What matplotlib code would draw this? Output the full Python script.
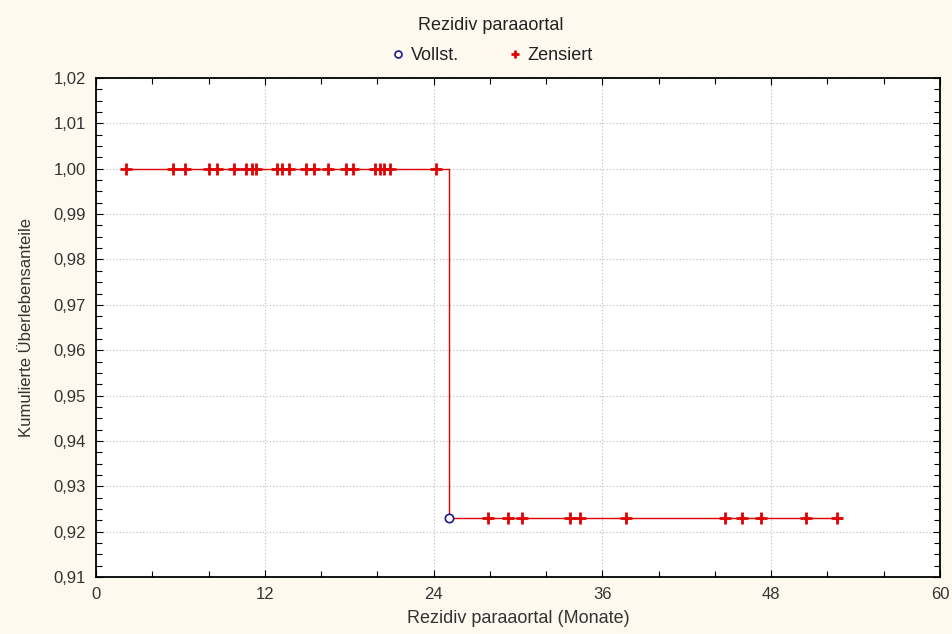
import numpy as np
import matplotlib
matplotlib.use("Agg")
import matplotlib.pyplot as plt
from matplotlib.ticker import MultipleLocator, FuncFormatter
from matplotlib.lines import Line2D

plt.rcParams['font.family'] = ['Liberation Sans', 'DejaVu Sans']

# censored observations (months) at each survival level
cens_top = [2.1, 5.5, 6.3, 8.0, 8.6, 9.8, 10.7, 11.1, 11.4, 12.9, 13.2, 13.7, 14.9,
            15.5, 16.5, 17.8, 18.3, 19.8, 20.2, 20.5, 20.9, 24.2]
cens_bottom = [27.9, 29.3, 30.3, 33.7, 34.4, 37.7, 44.7, 45.9, 47.3, 50.5, 52.7]
event_time = [25.1]
surv_before = 1.0
surv_after = 0.923

step_t = [cens_top[0], event_time[0], event_time[0], cens_bottom[-1]]
step_s = [surv_before, surv_before, surv_after, surv_after]

red = '#e00000'
txt = '#333333'
fig = plt.figure(figsize=(9.53, 6.34), dpi=100, facecolor='#fdf9ef')
ax = fig.add_axes([0.1007, 0.0899, 0.8857, 0.787])
ax.set_facecolor('white')

ax.plot(step_t, step_s, color=red, lw=1.0, zorder=2)
ax.plot(cens_top, [surv_before] * len(cens_top), ls='none', marker='+',
        ms=8, mew=2, color=red, zorder=3)
ax.plot(cens_bottom, [surv_after] * len(cens_bottom), ls='none', marker='+',
        ms=8, mew=2, color=red, zorder=3)
ax.plot(event_time, [surv_after], ls='none', marker='o', ms=6, mfc='white',
        mec='#1a1a8c', mew=1.2, zorder=4)

ax.set_xlim(0, 60)
ax.set_ylim(0.91, 1.02)
ax.xaxis.set_major_locator(MultipleLocator(12))
ax.xaxis.set_minor_locator(MultipleLocator(4))
ax.yaxis.set_major_locator(MultipleLocator(0.01))
ax.yaxis.set_minor_locator(MultipleLocator(0.0025))
ax.yaxis.set_major_formatter(FuncFormatter(lambda v, p: f"{v:.2f}".replace('.', ',')))
ax.tick_params(which='both', direction='in', top=True, right=True, colors='black',
               labelcolor=txt, labelsize=12)
ax.tick_params(which='major', length=5, width=0.8, pad=7)
ax.tick_params(which='minor', length=4, width=0.8)
ax.grid(True, which='major', ls=(0, (1, 2)), color='#bbbbbb', lw=0.8)
for s in ax.spines.values():
    s.set_linewidth(1.3)

ax.set_xlabel('Rezidiv paraaortal (Monate)', fontsize=13, color=txt, labelpad=6)
ax.set_ylabel('Kumulierte Überlebensanteile', fontsize=12, color=txt, labelpad=14)

fig.text(0.515, 0.96, 'Rezidiv paraaortal', ha='center', va='center',
         fontsize=13, color='#222222')
handles = [
    Line2D([], [], ls='none', marker='o', ms=5, mfc='white', mec='#1a1a8c', mew=1.2),
    Line2D([], [], ls='none', marker='+', ms=6, mew=2, color=red),
]
leg = fig.legend(handles, ['Vollst.', 'Zensiert'], ncol=2, frameon=False,
                 loc='center', bbox_to_anchor=(0.515, 0.912),
                 fontsize=13, handletextpad=0.2, columnspacing=2.6, handlelength=1.0)
for t in leg.get_texts():
    t.set_color('#222222')

fig.savefig('out.png', dpi=100, facecolor=fig.get_facecolor())
